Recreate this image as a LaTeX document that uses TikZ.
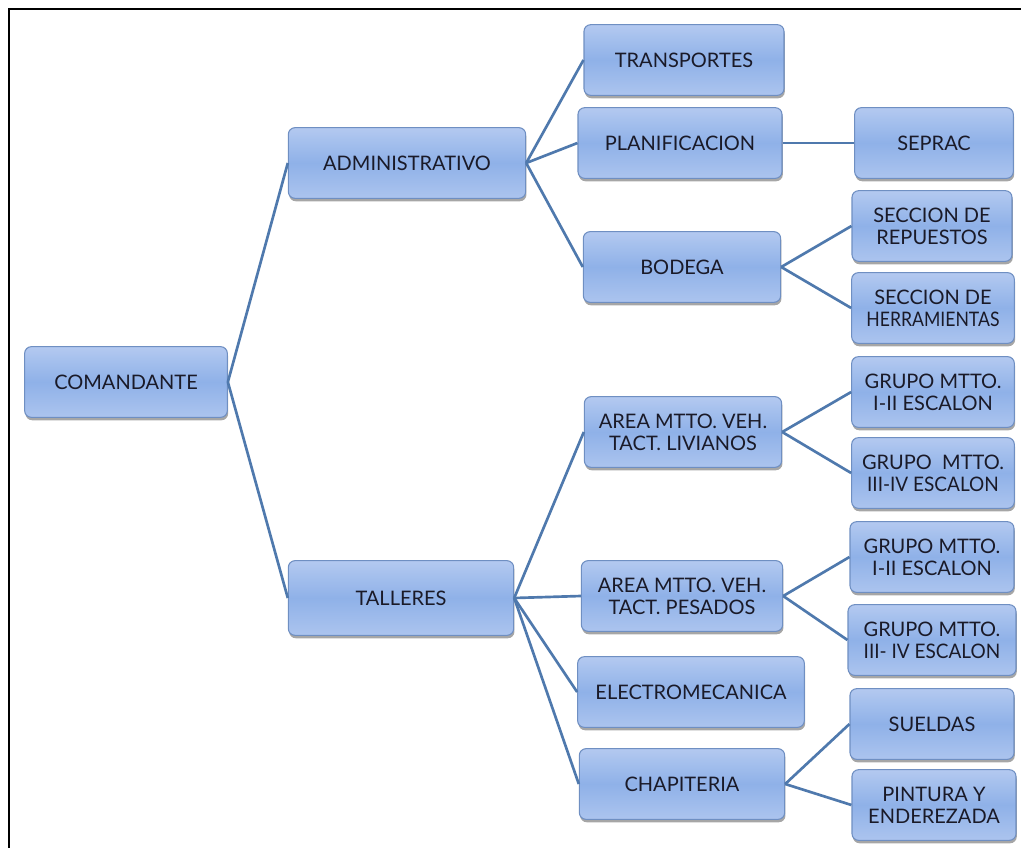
\documentclass[tikz,border=0pt]{standalone}
\usepackage{fontspec}
\setmainfont{Lato}
\usetikzlibrary{shadows}
\definecolor{boxA}{HTML}{B3C9F0}
\definecolor{boxB}{HTML}{8FB1E8}
\definecolor{boxEdge}{HTML}{6F8FC2}
\definecolor{link}{HTML}{4F79AD}
\definecolor{ink}{HTML}{1A1A28}
\tikzset{
  orgbox/.style={draw=boxEdge, line width=0.8pt, rounded corners=5pt,
    left color=boxA, right color=boxA!80!boxB, middle color=boxB,
    shading angle=0,
    drop shadow={shadow xshift=0.6pt, shadow yshift=-2.2pt, fill=black, opacity=0.35},
    minimum height=53pt, align=center, text=ink,
    font=\fontsize{15}{16.5}\selectfont, inner sep=1pt},
  conn/.style={draw=link, line width=2pt}
}
\begin{document}
\begin{tikzpicture}[x=0.75pt, y=-0.75pt]
\useasboundingbox (0,0) rectangle (1021,847);
\begin{scope}
\clip (0,0) rectangle (1021,847);
\draw[line width=1.8pt, black] (9,9) rectangle (1040,870);
\end{scope}

% level 0
\node[orgbox, minimum width=152pt] (com) at (126,382) {COMANDANTE};
% level 1
\node[orgbox, minimum width=178pt] (adm) at (407,163) {ADMINISTRATIVO};
\node[orgbox, minimum width=169pt, minimum height=56pt] (tal) at (401,598) {TALLERES};
% level 2, administrative branch
\node[orgbox, minimum width=150pt] (tra) at (684,60) {TRANSPORTES};
\node[orgbox, minimum width=153pt] (pla) at (680,143) {PLANIFICACION};
\node[orgbox, minimum width=148pt] (bod) at (682,267) {BODEGA};
% level 2, workshop branch
\node[orgbox, minimum width=148pt] (liv) at (683,432) {AREA MTTO. VEH.\\TACT. LIVIANOS};
\node[orgbox, minimum width=151pt] (pes) at (682,596) {AREA MTTO. VEH.\\TACT. PESADOS};
\node[orgbox, minimum width=170pt] (ele) at (691,692) {ELECTROMECANICA};
\node[orgbox, minimum width=154pt] (cha) at (682,784) {CHAPITERIA};
% level 3
\node[orgbox, minimum width=119pt] (sep) at (934,143) {SEPRAC};
\node[orgbox, minimum width=120pt] (rep) at (932,226) {SECCION DE\\REPUESTOS};
\node[orgbox, minimum width=122pt] (her) at (933,308) {SECCION DE\\\scalebox{0.88}[1]{HERRAMIENTAS}};
\node[orgbox, minimum width=122pt] (gl1) at (933,392) {GRUPO MTTO.\\I-II ESCALON};
\node[orgbox, minimum width=122pt] (gl2) at (933,473) {GRUPO~ MTTO.\\\scalebox{0.95}[1]{III-IV ESCALON}};
\node[orgbox, minimum width=123pt] (gp1) at (932,557) {GRUPO MTTO.\\I-II ESCALON};
\node[orgbox, minimum width=126pt] (gp2) at (932,640) {GRUPO MTTO.\\\scalebox{0.95}[1]{III- IV ESCALON}};
\node[orgbox, minimum width=123pt] (sue) at (932,724) {SUELDAS};
\node[orgbox, minimum width=123pt] (pin) at (934,805) {PINTURA Y\\ENDEREZADA};

% connectors
\foreach \p/\c in {com/adm, com/tal, adm/tra, adm/pla, adm/bod, pla/sep,
  bod/rep, bod/her, tal/liv, tal/pes, tal/ele, tal/cha, liv/gl1, liv/gl2,
  pes/gp1, pes/gp2, cha/sue, cha/pin}
  \draw[conn] (\p.east) -- (\c.west);
\end{tikzpicture}
\end{document}
